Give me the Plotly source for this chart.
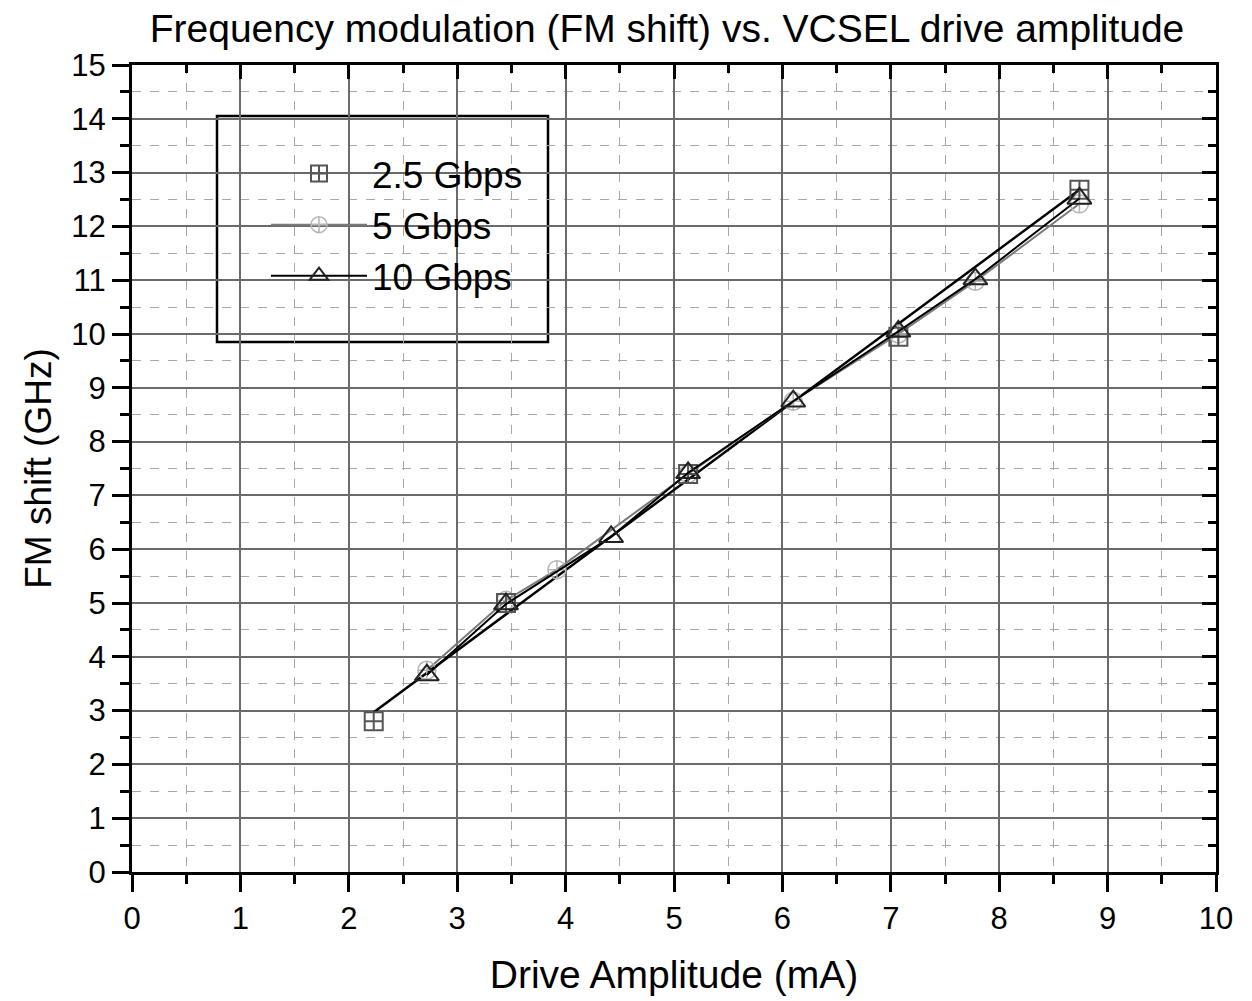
import plotly.graph_objects as go

# ---- data ----
x_25 = [2.23, 3.45, 5.13, 7.07, 8.74]
y_25 = [2.80, 5.00, 7.40, 9.95, 12.68]

x_5 = [2.72, 3.45, 3.92, 5.13, 6.10, 7.07, 7.78, 8.74]
y_5 = [3.75, 5.05, 5.62, 7.40, 8.75, 10.00, 10.98, 12.42]

x_10 = [2.72, 3.45, 4.42, 5.13, 6.10, 7.07, 7.78, 8.74]
y_10 = [3.66, 4.98, 6.23, 7.42, 8.75, 10.05, 11.02, 12.52]

fit_x = [2.23, 8.74]
fit_y = [2.97, 12.68]

series_names = ["2.5 Gbps", "5 Gbps", "10 Gbps"]
title_text = "Frequency modulation (FM shift) vs. VCSEL drive amplitude"
x_title = "Drive Amplitude (mA)"
y_title = "FM shift (GHz)"
x_ticks = list(range(0, 11))
y_ticks = list(range(0, 16))

FONT = "Liberation Sans, Arial, sans-serif"

# plot area in page pixels (page has an 8px body margin)
PX0, PX1, PY0, PY1 = 132, 1216, 65, 872
W, H = 1252, 1001
OFF = 8
PW, PH = PX1 - PX0, PY1 - PY0

fig = go.Figure()

fig.add_trace(go.Scatter(
    x=fit_x, y=fit_y, mode="lines", showlegend=False, hoverinfo="skip",
    line=dict(color="black", width=2.5)))

fig.add_trace(go.Scatter(
    x=x_5, y=y_5, mode="lines+markers", name=series_names[1],
    line=dict(color="#7a7a7a", width=2),
    marker=dict(symbol="circle-cross-open", size=18, color="#b5b5b5",
                line=dict(width=1.5, color="#b5b5b5"))))

fig.add_trace(go.Scatter(
    x=x_25, y=y_25, mode="markers", name=series_names[0],
    marker=dict(symbol="square-cross-open", size=18, color="#555555",
                line=dict(width=2, color="#555555"))))

fig.add_trace(go.Scatter(
    x=x_10, y=y_10, mode="lines+markers", name=series_names[2],
    line=dict(color="black", width=2),
    marker=dict(symbol="triangle-up-open", size=21, color="#222222",
                line=dict(width=2, color="#222222"))))

# helper trace for top/right axes
fig.add_trace(go.Scatter(
    x=fit_x, y=fit_y, xaxis="x2", yaxis="y2", mode="none",
    showlegend=False, hoverinfo="skip"))

common_grid = dict(showgrid=True, gridcolor="#6a6a6a", gridwidth=2, zeroline=False)
minor_cfg = dict(dtick=0.5, ticks="outside", ticklen=9, tickwidth=3, tickcolor="black",
                 showgrid=True, gridcolor="#a8a8a8", gridwidth=1, griddash="dash")

fig.update_layout(
    width=W, height=H,
    paper_bgcolor="white", plot_bgcolor="white",
    margin=dict(l=PX0 - OFF, r=W + OFF - PX1, t=PY0 - OFF, b=H + OFF - PY1),
    font=dict(family=FONT, color="black"),
    title=dict(text=title_text, x=(667 - OFF) / W, xanchor="center",
               y=1 - (28 - OFF) / H, yanchor="middle",
               font=dict(size=39, family=FONT, color="black")),
    xaxis=dict(
        range=[0, 10], tickmode="array", tickvals=x_ticks, ticktext=[str(v) for v in x_ticks],
        ticks="outside", ticklen=17, tickwidth=3, tickcolor="black",
        showline=True, linewidth=3, linecolor="black",
        tickfont=dict(size=31, family=FONT),
        title=dict(text=x_title, font=dict(size=39, family=FONT), standoff=26),
        minor=minor_cfg, **common_grid),
    yaxis=dict(
        range=[0, 15], tickmode="array", tickvals=y_ticks, ticktext=[str(v) for v in y_ticks],
        ticks="outside", ticklen=17, tickwidth=3, tickcolor="black",
        showline=True, linewidth=3, linecolor="black",
        tickfont=dict(size=31, family=FONT),
        title=dict(text=y_title, font=dict(size=37, family=FONT), standoff=9),
        minor=minor_cfg, **common_grid),
    xaxis2=dict(
        overlaying="x", side="top", range=[0, 10], dtick=1, ticks="inside", ticklen=14,
        tickwidth=3, tickcolor="black", showticklabels=False, showgrid=False,
        showline=True, linewidth=3, linecolor="black", zeroline=False,
        minor=dict(dtick=0.5, ticks="inside", ticklen=8, tickwidth=3, tickcolor="black")),
    yaxis2=dict(
        overlaying="y", side="right", range=[0, 15], dtick=1, ticks="inside", ticklen=14,
        tickwidth=3, tickcolor="black", showticklabels=False, showgrid=False,
        showline=True, linewidth=3, linecolor="black", zeroline=False,
        minor=dict(dtick=0.5, ticks="inside", ticklen=8, tickwidth=3, tickcolor="black")),
    legend=dict(
        x=(266 - PX0) / PW, y=(PY1 - 143) / PH, xanchor="left", yanchor="top",
        bgcolor="rgba(0,0,0,0)", borderwidth=0, itemwidth=96,
        traceorder="normal",
        font=dict(size=37, family=FONT, color="black")),
    shapes=[dict(type="rect", xref="paper", yref="paper",
                 x0=(217 - PX0) / PW, x1=(548 - PX0) / PW,
                 y0=(PY1 - 342) / PH, y1=(PY1 - 116) / PH,
                 line=dict(color="black", width=2.5), fillcolor="white", layer="between")],
)

# legend order: 2.5, 5, 10
fig.data[2].legendrank = 1
fig.data[1].legendrank = 2
fig.data[3].legendrank = 3

fig.write_html("out.html")
